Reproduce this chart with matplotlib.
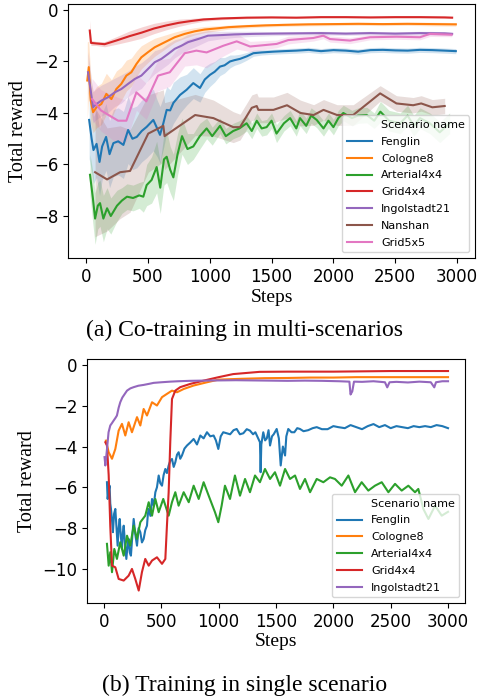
import numpy as np
import matplotlib
matplotlib.use("Agg")
from matplotlib import pyplot as plt
from matplotlib.lines import Line2D

# ---------------- (a) co-training, mean and band half-width ----------------
STEPS_BLU = [25, 45, 60, 85, 109, 130, 162, 190, 221, 260, 302, 340, 375, 410, 450,
             490, 544, 575, 598, 625, 652, 680, 706, 760, 813, 867, 921, 960, 1002, 1040,
             1083, 1120, 1164, 1200, 1245, 1300, 1353, 1420, 1515, 1600, 1700, 1800, 1900, 2000, 2100,
             2200, 2300, 2400, 2500, 2600, 2700, 2800, 2900, 2990]
BLU = [-4.27, -5.0, -5.44, -5.2, -5.9, -5.3, -4.93, -5.6, -5.17, -5.1, -5.24, -4.66, -5.0, -4.93, -4.7,
       -4.54, -4.27, -4.6, -4.85, -4.4, -3.88, -3.9, -3.61, -3.3, -3.1, -2.84, -3.03, -2.7, -2.52, -2.4,
       -2.2, -2.15, -2.0, -1.95, -1.9, -1.8, -1.68, -1.65, -1.62, -1.6, -1.58, -1.55, -1.6, -1.56, -1.58,
       -1.62, -1.56, -1.55, -1.57, -1.58, -1.55, -1.56, -1.58, -1.6]
BLU_BAND = [1.5, 1.3, 1.3, 1.3, 1.3, 1.3, 1.3, 1.3, 1.3, 1.3, 1.3, 1.3, 1.2, 1.2, 1.2,
            1.2, 1.2, 1.1, 1.1, 1.0, 0.9, 0.8, 0.8, 0.7, 0.6, 0.6, 0.55, 0.5, 0.45, 0.4,
            0.35, 0.3, 0.25, 0.2, 0.18, 0.15, 0.12, 0.1, 0.1, 0.1, 0.1, 0.1, 0.1, 0.1, 0.1,
            0.1, 0.1, 0.1, 0.1, 0.1, 0.1, 0.1, 0.1, 0.1]

STEPS_ORG = [10, 22, 38, 57, 84, 124, 164, 205, 245, 285, 326, 366, 407, 447, 501, 555, 609,
             663, 717, 798, 879, 960, 1050, 1150, 1300, 1450, 1600, 1800, 2000, 2200, 2400, 2600, 2800, 2990]
ORG = [-2.74, -2.22, -3.52, -3.97, -3.78, -3.65, -3.26, -3.46, -3.07, -2.87, -2.55, -2.42, -2.1, -1.84,
       -1.64, -1.45, -1.32, -1.19, -1.06, -0.93, -0.83, -0.76, -0.72, -0.67, -0.63, -0.6, -0.58, -0.56,
       -0.55, -0.54, -0.55, -0.54, -0.55, -0.56]
ORG_BAND = [1.5, 1.0, 0.9, 0.8, 0.8, 0.8, 0.8, 0.75, 0.7, 0.65, 0.6, 0.55, 0.5, 0.45, 0.4, 0.35, 0.3,
            0.25, 0.2, 0.17, 0.14, 0.12, 0.1, 0.08, 0.07, 0.06, 0.06, 0.06, 0.06, 0.06, 0.06, 0.06, 0.07, 0.07]

STEPS_GRN = [32, 55, 73, 95, 113, 140, 170, 200, 250, 290, 331, 380, 430, 463, 490,
             530, 571, 600, 630, 652, 680, 706, 740, 776, 820, 867, 920, 975, 1020, 1083,
             1130, 1190, 1240, 1298, 1340, 1380, 1420, 1460, 1500, 1540, 1600, 1650, 1700, 1730, 1780,
             1820, 1865, 1920, 1960, 2000, 2040, 2080, 2150, 2200, 2270, 2330, 2380, 2450, 2540, 2600,
             2650, 2700, 2780, 2860, 2940]
GRN = [-6.4, -7.3, -8.1, -7.6, -7.5, -8.1, -7.7, -8.0, -7.6, -7.4, -7.25, -7.3, -7.2, -7.25, -6.8,
       -6.6, -6.1, -6.9, -5.8, -5.7, -6.2, -6.5, -5.6, -4.9, -5.4, -5.3, -4.9, -4.6, -4.9, -4.5,
       -4.9, -4.7, -4.6, -4.4, -4.7, -4.3, -4.6, -4.55, -4.3, -4.8, -4.4, -4.2, -4.6, -4.2, -4.5,
       -4.1, -4.27, -4.6, -4.3, -4.55, -4.2, -4.0, -4.2, -4.1, -4.08, -4.3, -3.95, -4.3, -4.4, -4.1,
       -4.5, -4.2, -4.4, -4.75, -4.4]
GRN_BAND = [0.8, 1.0, 1.0, 0.9, 0.9, 0.9, 0.8, 0.7, 0.6, 0.5, 0.5, 0.5, 0.5, 0.6, 0.8,
            0.9, 1.0, 1.0, 1.0, 1.0, 0.9, 0.9, 0.8, 0.7, 0.6, 0.5, 0.5, 0.4, 0.35, 0.3,
            0.3, 0.3, 0.3, 0.3, 0.3, 0.3, 0.3, 0.3, 0.3, 0.35, 0.3, 0.3, 0.3, 0.3, 0.3,
            0.3, 0.3, 0.3, 0.3, 0.3, 0.3, 0.3, 0.3, 0.3, 0.3, 0.3, 0.4, 0.4, 0.4, 0.4,
            0.4, 0.4, 0.4, 0.4, 0.4]

STEPS_RED = [30, 40, 80, 150, 250, 350, 450, 550, 650, 750, 850, 950, 1100, 1300, 1500,
             1700, 1900, 2100, 2300, 2500, 2700, 2900, 2960]
RED = [-0.8, -1.28, -1.3, -1.33, -1.18, -1.02, -0.88, -0.72, -0.6, -0.5, -0.43, -0.37, -0.33, -0.3,
       -0.29, -0.3, -0.28, -0.28, -0.29, -0.28, -0.28, -0.29, -0.3]
RED_BAND = [0.4, 0.1, 0.08, 0.1, 0.15, 0.2, 0.22, 0.2, 0.17, 0.14, 0.1, 0.07, 0.05, 0.04, 0.03,
            0.03, 0.03, 0.03, 0.03, 0.03, 0.03, 0.03, 0.03]

STEPS_PUR = [16, 30, 57, 84, 124, 178, 232, 285, 340, 394, 447, 501, 555, 609, 663, 717,
             771, 825, 906, 986, 1080, 1200, 1350, 1500, 1700, 1900, 2100, 2300, 2500, 2700, 2900, 2960]
PUR = [-2.42, -2.87, -3.78, -3.65, -3.52, -3.39, -3.2, -3.07, -2.87, -2.68, -2.55, -2.29, -2.03, -1.9,
       -1.71, -1.51, -1.39, -1.25, -1.13, -1.0, -0.98, -0.95, -0.93, -0.92, -0.91, -0.9, -0.92, -0.9,
       -0.92, -0.9, -0.91, -0.93]
PUR_BAND = [0.8, 0.7, 0.6, 0.6, 0.6, 0.6, 0.55, 0.55, 0.5, 0.5, 0.5, 0.45, 0.45, 0.4, 0.4, 0.35,
            0.3, 0.3, 0.25, 0.2, 0.15, 0.12, 0.1, 0.08, 0.07, 0.07, 0.07, 0.07, 0.07, 0.07, 0.07, 0.07]

STEPS_BRN = [73, 170, 275, 356, 503, 625, 635, 882, 1030, 1190, 1245, 1340, 1380, 1393,
             1515, 1625, 1733, 1840, 1920, 2030, 2160, 2378, 2510, 2645, 2710, 2800, 2900]
BRN = [-6.3, -6.58, -6.3, -6.25, -4.8, -4.5, -4.9, -4.08, -4.2, -4.55, -4.55, -3.8, -3.73, -3.88,
       -3.88, -3.7, -4.0, -4.08, -3.88, -4.08, -4.08, -3.24, -3.63, -3.7, -3.63, -3.78, -3.73]
BRN_BAND = [2.5, 2.0, 1.8, 1.6, 1.5, 1.4, 1.3, 0.8, 0.7, 0.6, 0.5, 0.5, 0.5, 0.5,
            0.5, 0.5, 0.5, 0.4, 0.4, 0.4, 0.4, 0.3, 0.3, 0.3, 0.3, 0.3, 0.3]

STEPS_PNK = [49, 120, 259, 326, 407, 487, 582, 677, 798, 892, 975, 1110, 1218, 1326, 1541,
             1635, 1837, 1918, 1972, 2134, 2296, 2511, 2700, 2781, 2956]
PNK = [-3.46, -3.9, -4.3, -4.3, -3.2, -3.55, -2.55, -2.42, -1.68, -1.58, -1.65, -1.39, -1.22, -1.42,
       -1.32, -1.17, -1.09, -1.0, -1.13, -1.19, -1.06, -1.04, -1.06, -0.93, -0.96]
PNK_BAND = [0.8, 0.8, 0.9, 0.8, 0.7, 0.7, 0.6, 0.55, 0.5, 0.55, 0.6, 0.4, 0.3, 0.2, 0.15,
            0.15, 0.12, 0.12, 0.12, 0.12, 0.1, 0.1, 0.1, 0.1, 0.08]

# ---------------- (b) single scenario ----------------
B_STEPS_BLU = [26, 32, 40, 49, 55, 61, 70, 78, 88, 99, 109, 119, 128, 137, 147,
               157, 165, 172, 184, 195, 205, 215, 225, 235, 247, 259, 273, 288, 302, 317,
               331, 346, 360, 375, 383, 390, 405, 419, 434, 448, 462, 477, 491, 506, 520,
               535, 549, 564, 578, 593, 608, 622, 637, 651, 665, 680, 702, 724, 753, 782,
               811, 840, 869, 898, 927, 956, 976, 997, 1018, 1040,
               1100, 1130, 1157, 1185, 1215, 1245, 1273, 1300, 1320, 1345, 1360, 1366, 1372, 1389, 1405,
               1420, 1435, 1448, 1465, 1480, 1506, 1525, 1541, 1560, 1579, 1590, 1607, 1635, 1660, 1685,
               1709, 1740, 1780, 1820, 1855, 1900, 1950, 2000, 2043, 2100, 2150, 2200, 2250, 2300, 2350,
               2400, 2450, 2500, 2550, 2600, 2650, 2700, 2750, 2800, 2850, 2900, 2950, 3000]
B_BLU = [-5.75, -6.57, -6.2, -5.92, -6.8, -7.06, -7.6, -8.2, -7.3, -7.06, -8.0, -8.86, -8.0, -7.55, -8.4,
         -9.02, -8.2, -7.88, -8.8, -9.51, -8.9, -8.53, -9.2, -9.35, -8.4, -7.55, -8.3, -8.86, -8.0, -8.2,
         -8.7, -8.53, -8.1, -7.88, -7.3, -7.06, -7.4, -6.57, -6.9, -6.24, -6.0, -5.42, -5.8, -5.92, -5.4,
         -5.1, -5.3, -4.93, -4.7, -4.61, -5.0, -4.77, -4.4, -4.28, -4.6, -4.44, -4.1, -3.95, -3.8, -3.63,
         -3.9, -3.46, -3.6, -3.3, -3.5, -3.46, -3.7, -4.12, -3.5, -3.3,
         -3.4, -3.2, -3.14, -3.4, -3.35, -3.15, -3.22, -3.4, -3.3, -3.6, -3.79, -5.26, -3.9, -3.3, -3.7,
         -3.6, -3.2, -3.95, -3.5, -3.4, -3.14, -3.6, -4.93, -4.0, -4.44, -3.5, -3.14, -3.3, -3.3, -3.1,
         -3.14, -3.25, -3.2, -3.1, -3.05, -3.15, -3.15, -3.0, -3.05, -3.1, -2.95, -3.05, -3.15, -3.0, -2.9,
         -3.05, -2.95, -3.1, -3.0, -3.05, -3.1, -3.0, -3.05, -3.0, -3.05, -2.95, -3.0, -3.1]

B_STEPS_ORG = [17, 41, 70, 99, 128, 157, 186, 215, 244, 288, 317, 346, 375, 419, 462, 506, 549,
               593, 637, 695, 782, 898, 1000, 1100, 1200, 1400, 1600, 1800, 2000, 2200, 2400, 2600, 2800, 3000]
B_ORG = [-3.71, -4.28, -4.6, -4.12, -3.22, -2.89, -3.46, -2.81, -3.3, -2.56, -2.97, -2.16, -2.48, -1.83,
         -1.99, -1.58, -1.42, -1.26, -1.34, -1.18, -1.01, -0.85, -0.72, -0.7, -0.68, -0.65, -0.64, -0.62,
         -0.62, -0.6, -0.6, -0.6, -0.6, -0.6]

B_STEPS_GRN = [26, 41, 55, 70, 90, 113, 142, 172, 201, 229, 259, 288, 317, 360, 390,
               419, 448, 477, 517, 564, 593, 622, 651, 695, 739, 782, 826, 869, 913, 968,
               997, 1026, 1055, 1099, 1142, 1186, 1230, 1273, 1317, 1360, 1404, 1448, 1491, 1535, 1579,
               1622, 1666, 1709, 1753, 1797, 1855, 1913, 1971,
               2014, 2073, 2131, 2189, 2247, 2305, 2363, 2422, 2480, 2538, 2596, 2654, 2712, 2741, 2785,
               2829, 2887, 2945, 3000]
B_GRN = [-8.77, -9.84, -9.18, -10.16, -9.02, -9.51, -8.69, -9.35, -8.37, -8.86, -7.88, -8.53, -7.71, -7.39, -6.73,
         -7.39, -6.57, -7.22, -6.57, -7.39, -6.73, -6.24, -6.9, -6.24, -6.73, -5.92, -6.57, -5.75, -6.41, -7.22,
         -7.71, -6.9, -5.92, -6.57, -5.42, -6.41, -5.59, -6.24, -5.42, -5.75, -5.1, -5.59, -5.26, -5.92, -5.1,
         -5.59, -5.42, -6.08, -5.59, -6.24, -5.59, -5.75, -5.51,
         -5.59, -5.92, -5.42, -6.24, -5.75, -6.16, -5.92, -5.75, -6.24, -5.83, -6.16, -5.92, -6.24, -6.08, -7.06,
         -7.55, -6.9, -7.39, -7.2]

B_STEPS_RED = [12, 26, 41, 55, 70, 99, 128, 172, 215, 244, 273, 303, 331, 360, 390, 419, 462,
               506, 535, 549, 564, 578, 593, 622, 665, 753, 869, 1000, 1126, 1356, 1600, 2000, 2500, 3000]
B_RED = [-3.79, -3.95, -5.4, -7.9, -9.84, -9.92, -10.49, -10.57, -10.33, -10.0, -10.49, -11.06, -10.16,
         -9.51, -9.84, -9.59, -9.43, -9.75, -9.51, -7.88, -6.24, -3.79, -1.67, -1.26, -1.09, -0.93, -0.77,
         -0.6, -0.45, -0.34, -0.33, -0.33, -0.3, -0.3]

B_STEPS_PUR = [5, 12, 25, 40, 55, 70, 84, 100, 113, 128, 142, 160, 172, 190, 201, 230, 259,
               300, 346, 400, 433, 500, 578, 650, 750, 850, 1000, 1150, 1300, 1450, 1600, 1750, 1900,
               2050, 2140, 2150, 2165, 2180, 2250, 2350, 2450, 2470, 2490, 2550, 2650, 2750, 2850,
               2880, 2895, 2950, 3000]
B_PUR = [-4.52, -4.93, -4.2, -3.3, -2.97, -2.85, -2.73, -2.6, -2.48, -2.1, -1.83, -1.6, -1.5, -1.35,
         -1.26, -1.15, -1.09, -1.02, -0.98, -0.92, -0.88, -0.85, -0.82, -0.8, -0.78, -0.77, -0.76, -0.75,
         -0.76, -0.77, -0.78, -0.77, -0.78, -0.8, -0.82, -1.45, -1.3, -0.82, -0.83, -0.8, -0.85, -1.1,
         -0.85, -0.83, -0.86, -0.82, -0.85, -1.1, -0.85, -0.8, -0.8]

NAMES_A = ["Fenglin", "Cologne8", "Arterial4x4", "Grid4x4", "Ingolstadt21", "Nanshan", "Grid5x5"]
COLORS = ["#1f77b4", "#ff7f0e", "#2ca02c", "#d62728", "#9467bd", "#8c564b", "#e377c2"]

SERIF = ["Liberation Serif", "DejaVu Serif"]


def draw(ax, steps, vals, color, label, band=None):
    steps = np.array(steps)
    vals = np.array(vals)
    if band is not None:
        band = np.array(band)
        ax.fill_between(steps, vals - band, vals + band, color=color, alpha=0.2, linewidth=0)
    ax.plot(steps, vals, color=color, lw=1.5, label=label)


def style(ax, ylim, yticks):
    ax.set_xlim(-146, 3145)
    ax.set_ylim(*ylim)
    ax.set_xticks([0, 500, 1000, 1500, 2000, 2500, 3000])
    ax.set_yticks(yticks)
    ax.tick_params(labelsize=12)
    ax.set_xlabel("Steps", fontsize=14, family=SERIF)
    ax.set_ylabel("Total reward", fontsize=14.5, family=SERIF)
    handles, labels = ax.get_legend_handles_labels()
    handles = [Line2D([], [], color="none")] + handles
    labels = ["Scenario name"] + labels
    ax.legend(handles, labels, loc="lower right", fontsize=8, labelspacing=0.62, handlelength=2.3)


fig = plt.figure(figsize=(4.82, 6.98), dpi=100)

ax1 = fig.add_axes([68 / 482, 1 - 258 / 698, 407 / 482, 254 / 698])
series_a = [(STEPS_BLU, BLU, BLU_BAND), (STEPS_ORG, ORG, ORG_BAND), (STEPS_GRN, GRN, GRN_BAND),
            (STEPS_RED, RED, RED_BAND), (STEPS_PUR, PUR, PUR_BAND), (STEPS_BRN, BRN, BRN_BAND),
            (STEPS_PNK, PNK, PNK_BAND)]
for (s, v, b), name, c in zip(series_a, NAMES_A, COLORS):
    draw(ax1, s, v, c, name, b)
style(ax1, (-9.63, 0.23), [0, -2, -4, -6, -8])
ax1.yaxis.set_label_coords(-0.098, 0.5)
ax1.xaxis.set_label_coords(0.5, -0.122)

ax2 = fig.add_axes([87 / 482, 1 - 603 / 698, 378 / 482, 244 / 698])
series_b = [(B_STEPS_BLU, B_BLU), (B_STEPS_ORG, B_ORG), (B_STEPS_GRN, B_GRN),
            (B_STEPS_RED, B_RED), (B_STEPS_PUR, B_PUR)]
for (s, v), name, c in zip(series_b, NAMES_A[:5], COLORS[:5]):
    draw(ax2, s, v, c, name)
style(ax2, (-11.67, 0.29), [0, -2, -4, -6, -8, -10])
ax2.set_xlim(-148, 3148)
ax2.yaxis.set_label_coords(-0.132, 0.5)
ax2.xaxis.set_label_coords(0.5, -0.123)

fig.text(245 / 482, 1 - 330 / 698, "(a) Co-training in multi-scenarios", ha="center", va="center",
         fontsize=17, family=SERIF)
fig.text(245 / 482, 1 - 685 / 698, "(b) Training in single scenario", ha="center", va="center",
         fontsize=17, family=SERIF)

fig.savefig("out.png", dpi=100)
